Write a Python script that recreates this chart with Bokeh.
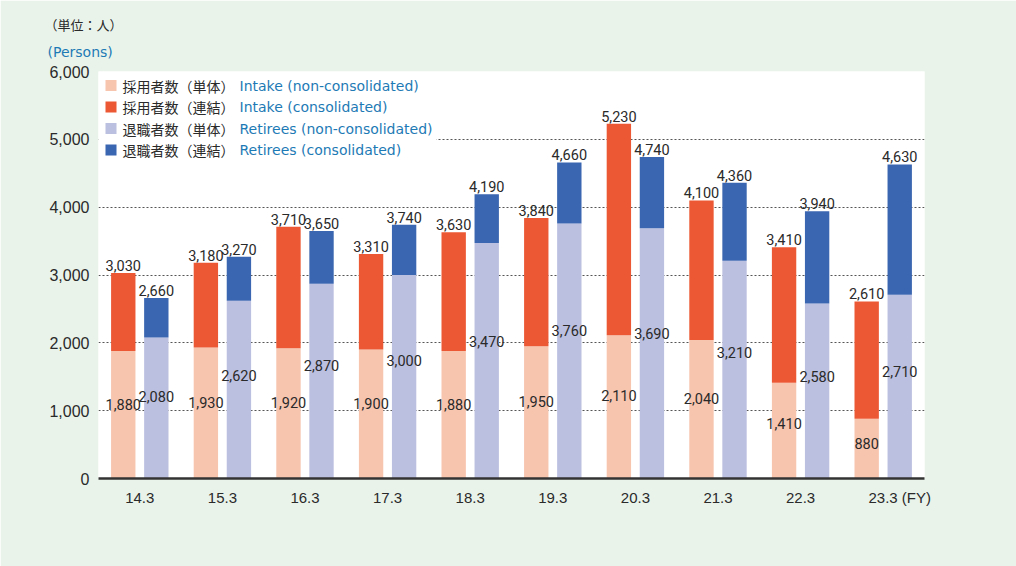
import numpy as np
from bokeh.plotting import figure
from bokeh.models import Range1d, FixedTicker, NumeralTickFormatter, Label, BoxAnnotation, ColumnDataSource, Title
from bokeh.embed import file_html
from bokeh.resources import INLINE
from bokeh.core.properties import value

# ---------------- data ----------------
years = ["14.3", "15.3", "16.3", "17.3", "18.3", "19.3", "20.3", "21.3", "22.3", "23.3 (FY)"]
intake_single = [1880, 1930, 1920, 1900, 1880, 1950, 2110, 2040, 1410, 880]
intake_consol = [3030, 3180, 3710, 3310, 3630, 3840, 5230, 4100, 3410, 2610]
retire_single = [2080, 2620, 2870, 3000, 3470, 3760, 3690, 3210, 2580, 2710]
retire_consol = [2660, 3270, 3650, 3740, 4190, 4660, 4740, 4360, 3940, 4630]
y_ticks = [0, 1000, 2000, 3000, 4000, 5000, 6000]
legend_jp = ["採用者数（単体）", "採用者数（連結）", "退職者数（単体）", "退職者数（連結）"]
legend_en = ["Intake (non-consolidated)", "Intake (consolidated)",
             "Retirees (non-consolidated)", "Retirees (consolidated)"]
unit_jp = "（単位：人）"
unit_en = "(Persons)"

# ---------------- style ----------------
C_IN_S = "#f7c4ae"
C_IN_C = "#ec5833"
C_RE_S = "#bcc0e0"
C_RE_C = "#3a65b0"
BG = "#e9f3ea"
TXT = "#2a2a2a"
BLUE = "#1d7ab5"
NUM_FONT = "Roboto"

W, H = 1016, 566
# page geometry of the plot frame (page px)
FX0, FX1, FY0, FY1 = 98, 924, 71, 478
YMAX = 6000
N = len(years)

def dx(px):
    return -0.5 + (px - FX0) * N / (FX1 - FX0)

def dy(py):
    return (FY1 - py) * YMAX / (FY1 - FY0)

p = figure(width=W, height=H, output_backend="svg", toolbar_location=None,
           x_range=Range1d(-0.5, N - 0.5), y_range=Range1d(0, YMAX),
           min_border_left=FX0, min_border_right=W - FX1,
           min_border_top=FY0, min_border_bottom=H - FY1)
p.background_fill_color = "white"
p.border_fill_color = BG
p.outline_line_color = None

# unit titles: p.title is the outer one, the added Title sits next to the frame
p.title.text = unit_jp
p.title.align = "left"
p.title.offset = 44 - FX0
p.title.text_font = "Noto Sans CJK JP"
p.title.text_font_size = "13px"
p.title.text_font_style = "normal"
p.title.text_color = TXT
p.title.standoff = -6
p.add_layout(Title(text=unit_en, align="left", offset=47 - FX0, text_font="DejaVu Sans",
                   text_font_size="14px", text_font_style="normal", text_color=BLUE,
                   standoff=23), "above")

xs = np.arange(N)
off, w = 0.2, 0.295

# bars
p.vbar(x=xs - off, width=w, bottom=0, top=intake_single, fill_color=C_IN_S, line_color=None)
p.vbar(x=xs - off, width=w, bottom=intake_single, top=intake_consol, fill_color=C_IN_C, line_color=None)
p.vbar(x=xs + off, width=w, bottom=0, top=retire_single, fill_color=C_RE_S, line_color=None)
p.vbar(x=xs + off, width=w, bottom=retire_single, top=retire_consol, fill_color=C_RE_C, line_color=None)

# value labels
fmt = lambda a: [f"{v:,}" for v in a]
top_src = ColumnDataSource(dict(
    x=list(xs - off) + list(xs + off),
    y=intake_consol + retire_consol,
    t=fmt(intake_consol) + fmt(retire_consol)))
p.text(x="x", y="y", text="t", source=top_src, text_align="center", text_baseline="bottom",
       y_offset=-2, text_font=value(NUM_FONT), text_font_size="14.5px", text_color=TXT)
mid_src = ColumnDataSource(dict(
    x=list(xs - off) + list(xs + off),
    y=[v * 0.58 for v in intake_single] + [v * 0.58 for v in retire_single],
    t=fmt(intake_single) + fmt(retire_single)))
p.text(x="x", y="y", text="t", source=mid_src, text_align="center", text_baseline="middle",
       text_font=value(NUM_FONT), text_font_size="14.5px", text_color=TXT)

# axes (last label carries the "(FY)" suffix, so its tick is nudged right to keep "23.3" aligned)
tick_pos = [float(i) for i in xs[:-1]] + [N - 1 + 0.2]
p.xaxis.ticker = FixedTicker(ticks=tick_pos)
p.xaxis.major_label_overrides = {tp: lab for tp, lab in zip(tick_pos, years)}
p.xaxis.major_label_text_font = "Liberation Sans"
p.xaxis.major_label_text_font_size = "15px"
p.xaxis.major_label_text_color = TXT
p.xaxis.major_tick_line_color = None
p.xaxis.minor_tick_line_color = None
p.xaxis.major_tick_out = 0
p.xaxis.major_tick_in = 0
p.xaxis.major_label_standoff = 10
p.xaxis.axis_line_color = "#333333"
p.xaxis.axis_line_width = 2.5

p.yaxis.ticker = FixedTicker(ticks=y_ticks)
p.yaxis.formatter = NumeralTickFormatter(format="0,0")
p.yaxis.major_label_text_font = "Liberation Sans"
p.yaxis.major_label_text_font_size = "16px"
p.yaxis.major_label_text_color = TXT
p.yaxis.axis_line_color = None
p.yaxis.major_tick_line_color = None
p.yaxis.minor_tick_line_color = None
p.yaxis.major_tick_out = 0
p.yaxis.major_tick_in = 0
p.yaxis.major_label_standoff = 9

p.xgrid.visible = False
p.ygrid.ticker = FixedTicker(ticks=y_ticks[1:])
p.ygrid.grid_line_color = "#555555"
p.ygrid.grid_line_dash = "2 2"
p.ygrid.grid_line_width = 1

# legend
p.add_layout(BoxAnnotation(left=dx(98), right=dx(436), top=dy(74), bottom=dy(158),
                           fill_color="white", fill_alpha=1, line_color=None))
rows = [85, 106.5, 128, 149.5]
cols = [C_IN_S, C_IN_C, C_RE_S, C_RE_C]
for ry, c, jp, en in zip(rows, cols, legend_jp, legend_en):
    p.add_layout(BoxAnnotation(left=dx(105), right=dx(116), top=dy(ry - 5.5), bottom=dy(ry + 5.5),
                               fill_color=c, fill_alpha=1, line_color=None))
    p.add_layout(Label(x=dx(122), y=dy(ry), text=jp, text_align="left", text_baseline="middle",
                       text_font="Noto Sans CJK JP", text_font_size="14px", text_color=TXT))
    p.add_layout(Label(x=dx(239), y=dy(ry), text=en, text_align="left", text_baseline="middle",
                       text_font="DejaVu Sans", text_font_size="14px", text_color=BLUE))

open("out.html", "w").write(file_html(p, INLINE))
